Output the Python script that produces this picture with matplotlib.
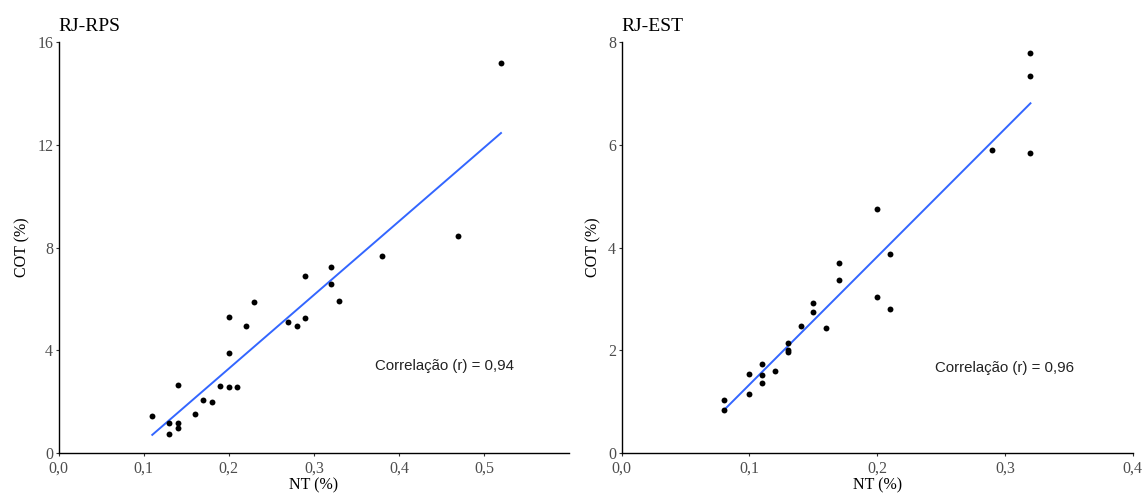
import numpy as np
import matplotlib
matplotlib.use("Agg")
import matplotlib.pyplot as plt

# RJ-RPS: total nitrogen vs. total organic carbon
rps_nt = [0.11, 0.13, 0.13, 0.14, 0.14, 0.14, 0.16, 0.17, 0.18, 0.19,
          0.20, 0.20, 0.20, 0.21, 0.22, 0.23, 0.27, 0.28, 0.29, 0.29,
          0.32, 0.32, 0.33, 0.38, 0.47, 0.52]
rps_cot = [1.47, 1.16, 0.76, 2.67, 1.16, 1.00, 1.52, 2.08, 2.00, 2.60,
           5.32, 3.92, 2.57, 2.57, 4.95, 5.87, 5.11, 4.95, 6.88, 5.28,
           7.24, 6.58, 5.92, 7.68, 8.44, 15.19]

# RJ-EST
est_nt = [0.08, 0.08, 0.10, 0.10, 0.11, 0.11, 0.11, 0.12, 0.13, 0.13,
          0.13, 0.14, 0.15, 0.15, 0.16, 0.17, 0.17, 0.20, 0.20, 0.21,
          0.21, 0.29, 0.32, 0.32, 0.32]
est_cot = [0.84, 1.04, 1.55, 1.16, 1.74, 1.52, 1.36, 1.60, 2.15, 2.01,
           1.97, 2.48, 2.92, 2.75, 2.44, 3.70, 3.37, 3.04, 4.76, 3.88,
           2.80, 5.90, 5.84, 7.34, 7.78]

titles = ["RJ-RPS", "RJ-EST"]
corr_labels = ["Correlação (r) = 0,94", "Correlação (r) = 0,96"]
x_ticks = [[0.0, 0.1, 0.2, 0.3, 0.4, 0.5], [0.0, 0.1, 0.2, 0.3, 0.4]]
y_ticks = [[0, 4, 8, 12, 16], [0, 2, 4, 6, 8]]
x_limits = [(0, 0.6), (0, 0.4)]
y_limits = [(0, 16), (0, 8)]
label_pos = [(0.372, 3.39), (0.245, 1.66)]

serif = ["Liberation Serif", "DejaVu Serif"]
sans = ["Liberation Sans", "DejaVu Sans"]
tick_grey = "#4d4d4d"

fig = plt.figure(figsize=(11.47, 4.97), dpi=100)
axes = [fig.add_axes([0.0512, 0.0879, 0.4449, 0.8276]),
        fig.add_axes([0.5420, 0.0879, 0.4455, 0.8276])]

datasets = [(rps_nt, rps_cot), (est_nt, est_cot)]

for i, ax in enumerate(axes):
    x = np.asarray(datasets[i][0])
    y = np.asarray(datasets[i][1])
    ax.scatter(x, y, s=18, color="black", zorder=3, linewidths=0)
    slope, intercept = np.polyfit(x, y, 1)
    xs = np.array([x.min(), x.max()])
    ax.plot(xs, slope * xs + intercept, color="#3366FF", lw=1.4, zorder=2)

    ax.set_xlim(*x_limits[i])
    ax.set_ylim(*y_limits[i])
    ax.set_xticks(x_ticks[i])
    ax.set_xticklabels([f"{t:.1f}".replace(".", ",") for t in x_ticks[i]],
                       family=serif, fontsize=11.5, color=tick_grey)
    ax.set_yticks(y_ticks[i])
    ax.set_yticklabels([str(t) for t in y_ticks[i]],
                       family=serif, fontsize=11.5, color=tick_grey)
    ax.tick_params(length=2.5, width=0.8, color="#333333", pad=1.5)
    ax.tick_params(axis="x", pad=3)

    for side in ("top", "right"):
        ax.spines[side].set_visible(False)
    for side in ("left", "bottom"):
        ax.spines[side].set_linewidth(1.0)
        ax.spines[side].set_color("black")

    ax.set_xlabel("NT (%)", family=serif, fontsize=11.5, labelpad=0)
    ax.set_ylabel("COT (%)", family=serif, fontsize=11.5, labelpad=5)
    ax.set_title(titles[i], family=serif, fontsize=14, loc="left", pad=8)

    ax.text(label_pos[i][0], label_pos[i][1], corr_labels[i], family=sans,
            fontsize=10.8, color="#222222", va="center", ha="left")

fig.savefig("out.png", dpi=100, facecolor="white")
